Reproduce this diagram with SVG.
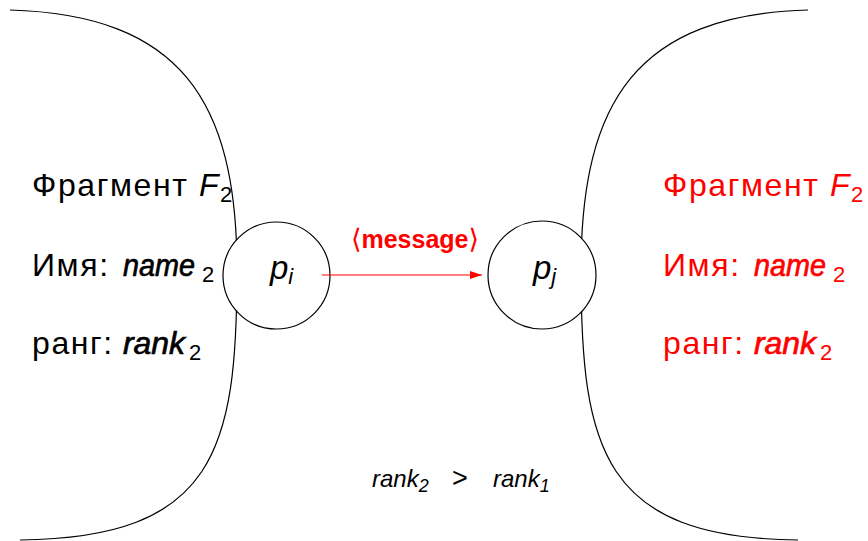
<svg xmlns="http://www.w3.org/2000/svg" width="868" height="541" viewBox="0 0 868 541">
  <defs>
    <style>
      .edge { fill: none; stroke: #000; stroke-width: 1.2; }
      .proc { fill: #fff; stroke: #000; stroke-width: 1.2; }
      .lbl { font-family: "Liberation Sans", "DejaVu Sans", sans-serif; font-size: 32px; letter-spacing: 1.6px; }
      .it { font-style: italic; letter-spacing: 0; }
      .bi { font-style: italic; letter-spacing: 0; stroke-width: 0.7px; }
      .blk .bi { stroke: #000; }
      .red .bi { stroke: #f00; }
      .sub { font-size: 22px; letter-spacing: 0; }
      .red { fill: #f00; }
      .blk { fill: #000; }
      .msg { stroke: #f00; stroke-width: 1.2; fill: none; }
      .math { font-family: "Liberation Sans", "DejaVu Sans", sans-serif; font-style: italic; }
    </style>
    <marker id="arrow" viewBox="0 0 12 8" refX="12" refY="4" markerWidth="12" markerHeight="8" markerUnits="userSpaceOnUse" orient="auto">
      <path d="M0,0 L12,4 L0,8 Z" fill="#f00"/>
    </marker>
  </defs>

  <!-- fragment boundaries -->
  <g id="fragment-left">
    <path class="edge" d="M10,10 C180,15 237,100 237,270 C237,450 215,538 20,540"/>
    <text class="lbl blk" x="32" y="196">Фрагмент<tspan class="it" x="199">F</tspan><tspan class="sub" x="220" dy="6">2</tspan></text>
    <text class="lbl blk" x="32" y="276">Имя:<tspan class="bi" x="123" textLength="72" lengthAdjust="spacingAndGlyphs">name</tspan><tspan class="sub" x="202" dy="6">2</tspan></text>
    <text class="lbl blk" x="32" y="354">ранг:<tspan class="bi" x="123" textLength="62" lengthAdjust="spacingAndGlyphs">rank</tspan><tspan class="sub" x="189" dy="6">2</tspan></text>
  </g>

  <g id="fragment-right">
    <path class="edge" d="M808,10 C638,15 581,100 581,270 C581,450 603,538 798,540"/>
    <text class="lbl red" x="663" y="196">Фрагмент<tspan class="it" x="830">F</tspan><tspan class="sub" x="851" dy="6">2</tspan></text>
    <text class="lbl red" x="663" y="276">Имя:<tspan class="bi" x="754" textLength="72" lengthAdjust="spacingAndGlyphs">name</tspan><tspan class="sub" x="833" dy="6">2</tspan></text>
    <text class="lbl red" x="663" y="354">ранг:<tspan class="bi" x="754" textLength="62" lengthAdjust="spacingAndGlyphs">rank</tspan><tspan class="sub" x="820" dy="6">2</tspan></text>
  </g>

  <!-- processes -->
  <g id="p-i">
    <circle class="proc" cx="276.5" cy="275.5" r="53.5"/>
    <text class="math" x="270" y="279" font-size="33">p<tspan font-size="22" dy="5">i</tspan></text>
  </g>
  <g id="p-j">
    <circle class="proc" cx="542" cy="275" r="54"/>
    <text class="math" x="533" y="279" font-size="33">p<tspan font-size="22" dy="5">j</tspan></text>
  </g>

  <!-- message passing -->
  <g id="connectors">
    <line class="msg" x1="322" y1="275" x2="482" y2="275" marker-end="url(#arrow)"/>
    <text x="415" y="248" text-anchor="middle" fill="#f00" font-family="Liberation Sans, DejaVu Sans, sans-serif" font-weight="bold" font-size="25"><tspan font-family="DejaVu Sans, sans-serif" font-weight="normal" font-size="27">⟨</tspan>message<tspan font-family="DejaVu Sans, sans-serif" font-weight="normal" font-size="27">⟩</tspan></text>
  </g>

  <!-- rank condition -->
  <g id="condition">
    <text class="math" x="372" y="487" font-size="24">rank<tspan font-size="18" dy="5">2</tspan><tspan font-style="normal" font-size="27" x="452" dy="-5">&gt;</tspan><tspan x="493">rank</tspan><tspan font-size="18" dy="5">1</tspan></text>
  </g>
</svg>
